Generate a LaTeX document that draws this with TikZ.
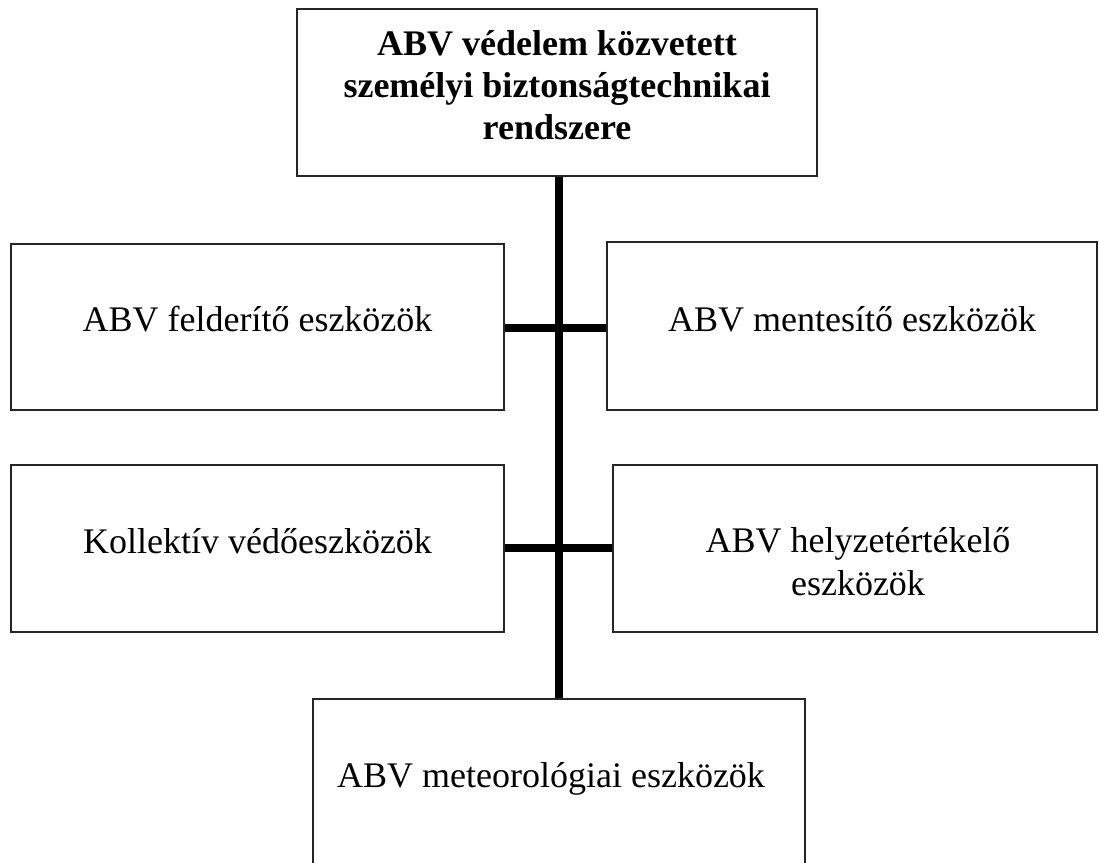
\documentclass[tikz,border=0pt]{standalone}
\usepackage{fontspec}
\setmainfont{Liberation Serif}
\begin{document}
\begin{tikzpicture}[x=1pt,y=-1pt,
  box/.style={draw=black!85, line width=1.4pt, fill=white, inner sep=0pt},
  lbl/.style={inner sep=0pt, anchor=base, align=center, font=\fontsize{36}{43}\selectfont},
  conn/.style={draw=black, line width=8pt}]
\clip (0,0) rectangle (1099,862);
\fill[white] (0,0) rectangle (1099,862);
% boxes
\node[box, minimum width=520pt, minimum height=167pt] (top) at (557,92.5) {};
\node[box, minimum width=493pt, minimum height=166pt] (l1) at (257.5,327) {};
\node[box, minimum width=490pt, minimum height=168pt] (r1) at (852,326) {};
\node[box, minimum width=493pt, minimum height=167pt] (l2) at (257.5,548.5) {};
\node[box, minimum width=484pt, minimum height=167pt] (r2) at (855,548.5) {};
\node[box, minimum width=492pt, minimum height=182pt] (bot) at (559,790) {};
% connectors
\draw[conn] (top.south -| bot.north) -- (bot.north);
\draw[conn] (l1.east |- 0,328) -- (r1.west |- 0,328);
\draw[conn] (l2.east |- 0,548) -- (r2.west |- 0,548);
% texts (multi-line nodes: base = baseline of last line)
\node[lbl, font=\fontsize{36}{42}\selectfont\bfseries] (ttop) at (557,139) {ABV védelem közvetett\\személyi biztonságtechnikai\\rendszere};
\node[lbl] (tl1) at (257.5,331) {ABV felderítő eszközök};
\node[lbl] (tr1) at (852,331) {ABV mentesítő eszközök};
\node[lbl] (tl2) at (257.5,553) {Kollektív védőeszközök};
\node[lbl] (tr2) at (858,595) {ABV helyzetértékelő\\eszközök};
\node[lbl] (tbot) at (551,787) {ABV meteorológiai eszközök};
\end{tikzpicture}
\end{document}
